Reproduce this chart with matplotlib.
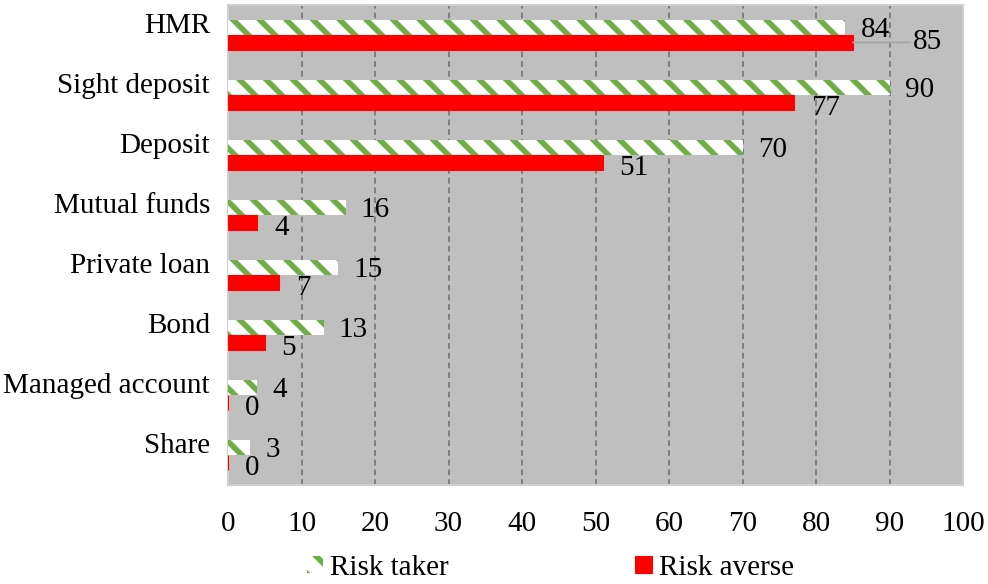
import numpy as np
import matplotlib
matplotlib.use("Agg")
import matplotlib.pyplot as plt

# holdings by instrument, share of respondents (%)
categories = ["HMR", "Sight deposit", "Deposit", "Mutual funds",
              "Private loan", "Bond", "Managed account", "Share"]
risk_taker = [84, 90, 70, 16, 15, 13, 4, 3]
risk_averse = [85, 77, 51, 4, 7, 5, 0, 0]
x_ticks = [0, 10, 20, 30, 40, 50, 60, 70, 80, 90, 100]

# rendered at 80 dpi so the hatch stripes come out tighter; sizes below
# are given in 100-dpi points and scaled by K
DPI = 80
K = 100 / DPI

plt.rcParams["font.family"] = ["Liberation Serif", "DejaVu Serif"]
plt.rcParams["hatch.linewidth"] = 4.0 * K

GREEN = "#70AD47"
RED = "#FF0000"
FS = 21 * K

fig = plt.figure(figsize=(988 / DPI, 584 / DPI), dpi=DPI)
ax = fig.add_axes([0.2308, 0.1695, 0.7439, 0.8220])
ax.set_facecolor("#BFBFBF")

pos = np.arange(len(categories))
h = 0.25

ax.barh(pos - h / 2, risk_taker, height=h, color="white", edgecolor=GREEN,
        hatch="\\", linewidth=0, label="Risk taker", zorder=3)
ax.barh(pos + h / 2, risk_averse, height=h, color=RED, edgecolor=RED,
        linewidth=0.8 * K, label="Risk averse", zorder=3)

# value labels just past the bar ends
for i, v in enumerate(risk_taker):
    ax.annotate(str(v), xy=(v, i - h / 2), xytext=(11 * K, -2 * K), textcoords="offset points",
                ha="left", va="center", fontsize=FS, zorder=4)
for i, v in enumerate(risk_averse):
    if i == 0:
        # first label pulled out to the right with a leader line
        ax.annotate(str(v), xy=(v, i + h / 2), xytext=(43 * K, 0), textcoords="offset points",
                    ha="left", va="center", fontsize=FS, zorder=4,
                    arrowprops=dict(arrowstyle="-", color="#A6A6A6", lw=1.2 * K,
                                    shrinkA=0, shrinkB=0,
                                    relpos=(0, 0.5)))
    else:
        ax.annotate(str(v), xy=(v, i + h / 2), xytext=(12 * K, -4 * K), textcoords="offset points",
                    ha="left", va="center", fontsize=FS, zorder=4)

ax.set_xlim(0, 100)
ax.set_ylim(len(categories) - 0.5, -0.5)
ax.set_xticks(x_ticks)
ax.set_xticklabels([str(t) for t in x_ticks], fontsize=FS)
ax.set_yticks(pos - 0.2)
ax.set_yticklabels(categories, fontsize=FS)
ax.tick_params(axis="both", length=0)
ax.tick_params(axis="y", pad=13 * K)
ax.tick_params(axis="x", pad=19 * K)

ax.xaxis.grid(True, color="#7F7F7F", linestyle=(0, (3, 2)), linewidth=1.4 * K, zorder=1)
ax.set_axisbelow(True)
for s in ax.spines.values():
    s.set_color("#D0D0D0")
    s.set_linewidth(1.5 * K)

fig.legend(loc="center", bbox_to_anchor=(0.557, 0.028), ncol=2, frameon=False,
           fontsize=FS, handlelength=0.55, handleheight=0.55, handletextpad=0.25,
           columnspacing=6.4)

fig.savefig("out.png", dpi=DPI)
